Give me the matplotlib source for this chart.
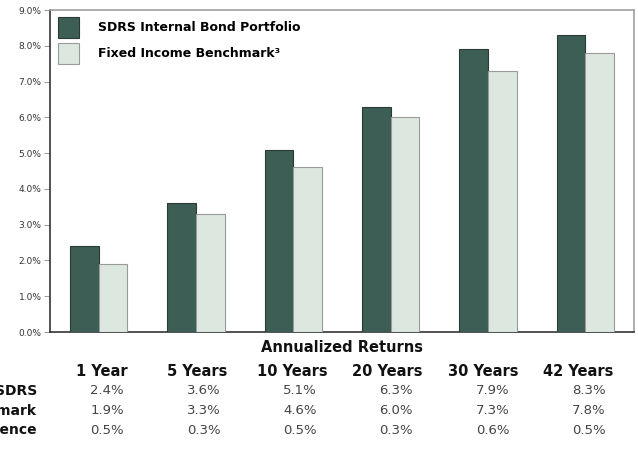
import matplotlib
matplotlib.use("Agg")
import matplotlib.pyplot as plt
import matplotlib.transforms as mtransforms
from matplotlib.ticker import FuncFormatter

periods = ["1 Year", "5 Years", "10 Years", "20 Years", "30 Years", "42 Years"]
sdrs = [2.4, 3.6, 5.1, 6.3, 7.9, 8.3]
benchmark = [1.9, 3.3, 4.6, 6.0, 7.3, 7.8]
difference = [0.5, 0.3, 0.5, 0.3, 0.6, 0.5]
row_labels = ["SDRS", "Benchmark", "Difference"]
legend_labels = ["SDRS Internal Bond Portfolio", "Fixed Income Benchmark\u00b3"]
y_ticks = [0, 1, 2, 3, 4, 5, 6, 7, 8, 9]

dark = "#3c5e54"
light = "#dce8df"

fig = plt.figure(figsize=(6.38, 4.55), dpi=100)
ax = fig.add_axes([50/638, 1-332/455, 584/638, 322/455])

x = list(range(len(periods)))
w = 0.293
ax.bar([i - w/2 for i in x], sdrs, width=w, color=dark, edgecolor="#2a3a35",
       linewidth=0.8, label=legend_labels[0], zorder=3)
ax.bar([i + w/2 for i in x], benchmark, width=w, color=light, edgecolor="#9a9a9a",
       linewidth=0.8, label=legend_labels[1], zorder=3)

ax.set_xlim(-0.5, len(periods) - 0.5)
ax.set_ylim(0, 9)
ax.set_yticks(y_ticks)
ax.yaxis.set_major_formatter(FuncFormatter(lambda v, p: f"{v:.1f}%"))
ax.tick_params(axis="y", labelsize=6.5, length=4, width=0.6, color="#888888",
               labelcolor="#333333", pad=2)
ax.set_xticks([])
for s in ["top", "right"]:
    ax.spines[s].set_color("#a0a0a0")
    ax.spines[s].set_linewidth(1.2)
for s in ["left", "bottom"]:
    ax.spines[s].set_color("#333333")
    ax.spines[s].set_linewidth(1.2)

leg = ax.legend(loc="upper left", bbox_to_anchor=(8/584, 1-7/322), frameon=False,
                borderaxespad=0, borderpad=0, handlelength=1.7, handleheight=2.2,
                handletextpad=1.5, labelspacing=0.38,
                prop={"weight": "bold", "size": 9})

trans = mtransforms.blended_transform_factory(ax.transData, fig.transFigure)

fig.text(342/638, 1-347/455, "Annualized Returns", ha="center", va="center",
         fontsize=10.5, fontweight="bold", color="#111111")

col_y = 1 - 371/455
row_ys = [1 - 391/455, 1 - 411/455, 1 - 430/455]
for i, p in enumerate(periods):
    ax.text(0.98 * i + 0.03, col_y, p, transform=trans, ha="center", va="center",
            fontsize=10.5, fontweight="bold", color="#111111")
rows = [sdrs, benchmark, difference]
for r, (lab, vals, yy) in enumerate(zip(row_labels, rows, row_ys)):
    fig.text(37/638, yy, lab, ha="right", va="center", fontsize=10,
             fontweight="bold", color="#111111")
    for i, v in enumerate(vals):
        ax.text(0.99 * i + 0.26, yy, f"{v:.1f}%", transform=trans, ha="right",
                va="center", fontsize=9.5, color="#444444")

fig.savefig("out.png", dpi=100)
